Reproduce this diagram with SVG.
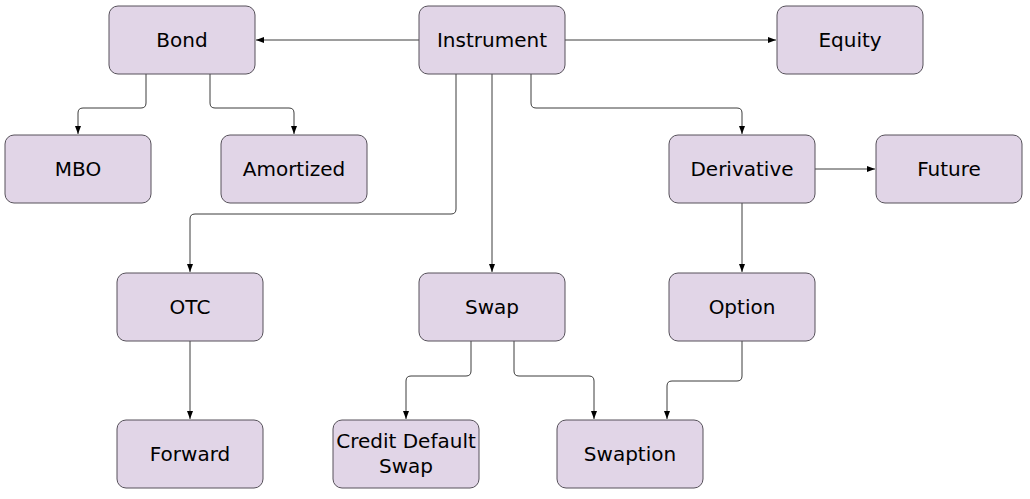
<svg xmlns="http://www.w3.org/2000/svg" width="1030" height="499" viewBox="0 0 1030 499">
<style>
.n rect{fill:#e1d5e7;stroke:#56515a;stroke-width:1}
.n text{font-family:"DejaVu Sans",sans-serif;font-size:20px;fill:#000;text-anchor:middle}
.c path{fill:none;stroke:#3c3c3c;stroke-width:1;marker-end:url(#a)}
</style>
<defs>
<marker id="a" viewBox="0 0 8 8" refX="8" refY="4" markerWidth="8" markerHeight="8" markerUnits="userSpaceOnUse" orient="auto">
<path d="M0,1 L8,4 L0,7 Z" fill="#000"/>
</marker>
</defs>
<g class="c" id="connectors">
<path d="M419,40 H256"/>
<path d="M565,40 H776"/>
<path d="M146,74 V103 Q146,108 141,108 H83 Q78,108 78,113 V134"/>
<path d="M210,74 V103 Q210,108 215,108 H289 Q294,108 294,113 V134"/>
<path d="M456,74 V209 Q456,214 451,214 H195 Q190,214 190,219 V272"/>
<path d="M492,74 V272"/>
<path d="M531,74 V103 Q531,108 536,108 H737 Q742,108 742,113 V134"/>
<path d="M815,169 H875"/>
<path d="M742,203 V272"/>
<path d="M190,341 V419"/>
<path d="M471,341 V371 Q471,376 466,376 H411 Q406,376 406,381 V419"/>
<path d="M514,341 V371 Q514,376 519,376 H589 Q594,376 594,381 V419"/>
<path d="M742,341 V376 Q742,381 737,381 H672 Q667,381 667,386 V419"/>
</g>
<g class="n" id="bond"><rect x="109" y="6" width="146" height="68" rx="9"/><text x="182" y="47">Bond</text></g>
<g class="n" id="instrument"><rect x="419" y="6" width="146" height="68" rx="9"/><text x="492" y="47">Instrument</text></g>
<g class="n" id="equity"><rect x="777" y="6" width="146" height="68" rx="9"/><text x="850" y="47">Equity</text></g>
<g class="n" id="mbo"><rect x="5" y="135" width="146" height="68" rx="9"/><text x="78" y="176">MBO</text></g>
<g class="n" id="amortized"><rect x="221" y="135" width="146" height="68" rx="9"/><text x="294" y="176">Amortized</text></g>
<g class="n" id="derivative"><rect x="669" y="135" width="146" height="68" rx="9"/><text x="742" y="176">Derivative</text></g>
<g class="n" id="future"><rect x="876" y="135" width="146" height="68" rx="9"/><text x="949" y="176">Future</text></g>
<g class="n" id="otc"><rect x="117" y="273" width="146" height="68" rx="9"/><text x="190" y="314">OTC</text></g>
<g class="n" id="swap"><rect x="419" y="273" width="146" height="68" rx="9"/><text x="492" y="314">Swap</text></g>
<g class="n" id="option"><rect x="669" y="273" width="146" height="68" rx="9"/><text x="742" y="314">Option</text></g>
<g class="n" id="forward"><rect x="117" y="420" width="146" height="68" rx="9"/><text x="190" y="461">Forward</text></g>
<g class="n" id="cds"><rect x="333" y="420" width="146" height="68" rx="9"/><text x="406" y="448">Credit Default</text><text x="406" y="473">Swap</text></g>
<g class="n" id="swaption"><rect x="557" y="420" width="146" height="68" rx="9"/><text x="630" y="461">Swaption</text></g>
</svg>
